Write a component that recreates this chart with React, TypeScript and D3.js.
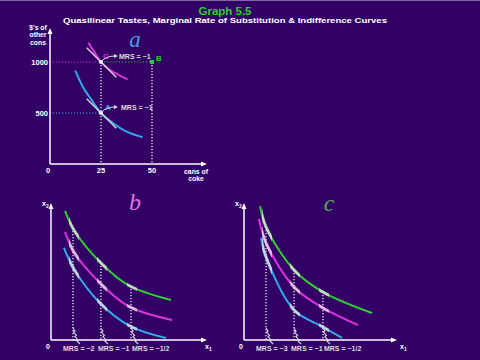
import React from 'react';
import * as d3 from 'd3';

const W = 480;
const H = 360;
const bg = '#330066';
const green = '#33cc33';
const magenta = '#dd33dd';
const blue = '#33aaee';
const grey = '#dcdcdc';

// panel a : quasilinear, cans of coke vs $'s of other cons
const aTicksX = [0, 25, 50];
const aTicksY = [500, 1000];
const aBlue = [
  {x: 12.4, y: 915}, {x: 16.3, y: 750}, {x: 20.4, y: 627}, {x: 25, y: 500},
  {x: 31, y: 400}, {x: 37.6, y: 317}, {x: 45.4, y: 262},
];
const aMagenta = [
  {x: 18.8, y: 1189}, {x: 22.1, y: 1085}, {x: 25, y: 1000}, {x: 29.4, y: 922}, {x: 38.1, y: 830},
];
const aPoints = [
  {name: 'C', x: 25, y: 1000, color: magenta},
  {name: 'A', x: 25, y: 500, color: blue},
];
const pointB = {name: 'B', x: 50, y: 1000};
const aSlope = -20; // MRS = -1 drawn at screen slope -1

// panel b
const bGreen = [
  {x: 0.9, y: 9.42}, {x: 1.47, y: 8.03}, {x: 3.14, y: 5.69}, {x: 4.94, y: 4.01}, {x: 7.69, y: 2.92},
];
const bMagenta = [
  {x: 0.9, y: 7.88}, {x: 1.47, y: 6.42}, {x: 3.14, y: 4.16}, {x: 4.94, y: 2.48}, {x: 7.76, y: 1.46},
];
const bBlue = [
  {x: 0.83, y: 6.72}, {x: 1.47, y: 5.18}, {x: 3.14, y: 2.7}, {x: 5.06, y: 1.02}, {x: 7.37, y: 0.15},
];
const bMrsX = [1.41, 3.2, 5.13];
const bMrsLabels = ['MRS = \u22122', 'MRS = \u22121', 'MRS = \u22121/2'];

// panel c
const cGreen = [
  {x: 1.05, y: 9.78}, {x: 1.44, y: 8.25}, {x: 3.27, y: 5.11}, {x: 5.16, y: 3.5}, {x: 8.37, y: 1.97},
];
const cMagenta = [
  {x: 0.98, y: 8.83}, {x: 1.44, y: 7.08}, {x: 3.27, y: 3.87}, {x: 5.16, y: 2.34}, {x: 7.45, y: 1.09},
];
const cBlue = [
  {x: 1.11, y: 7.45}, {x: 1.44, y: 6.06}, {x: 3.27, y: 2.19}, {x: 5.16, y: 0.95}, {x: 6.41, y: 0.15},
];
const cMrsX = [1.44, 3.27, 5.16];
const cMrsLabels = ['MRS = \u22123', 'MRS = \u22121', 'MRS = \u22121/2'];

const labelOffsets = [-10, -3, 1];
const font = "'Liberation Sans', Arial, sans-serif";
const serif = "'Liberation Serif', 'DejaVu Serif', serif";

function Arrowhead({x, y, dir}) {
  // dir: 'up' | 'right'
  const p = dir === 'up'
    ? `M${x},${y} L${x - 2.5},${y + 6} L${x + 2.5},${y + 6} Z`
    : `M${x},${y} L${x - 6},${y - 2.5} L${x - 6},${y + 2.5} Z`;
  return <path d={p} fill='white' />;
}

function Axes({x0, y0, xEnd, yEnd}) {
  return (
    <g>
      <line x1={x0} y1={y0} x2={x0} y2={yEnd + 3} stroke='white' strokeWidth={1.5} />
      <line x1={x0} y1={y0} x2={xEnd - 3} y2={y0} stroke='white' strokeWidth={1.5} />
      <Arrowhead x={x0} y={yEnd} dir='up' />
      <Arrowhead x={xEnd} y={y0} dir='right' />
    </g>
  );
}

// little lightning-style arrow from the dotted line down to its label
function squiggle(x, y) {
  return `M${x},${y} l2,3 l-1.5,1 l3,3.5 l-1.5,1 l3,3.5 l-1,1 l3,3`;
}

function Panel({id, xs, ys, curves, mrsX, labels, letter, letterColor, xLabelX}) {
  const line = d3.line().x(d => xs(d.x)).y(d => ys(d.y)).curve(d3.curveCatmullRom);
  const top = d3.scaleLinear().domain(curves[0].data.map(d => d.x)).range(curves[0].data.map(d => d.y));
  const x0 = xs(0);
  const y0 = ys(0);
  return (
    <g>
      <defs>
        {mrsX.map((m, i) => (
          <clipPath key={i} id={`${id}clip${i}`}>
            <rect x={xs(m) - 4} y={0} width={10} height={H} />
          </clipPath>
        ))}
      </defs>
      {mrsX.map((m, i) => (
        <line key={i} x1={xs(m)} x2={xs(m)} y1={ys(top(m))} y2={y0}
          stroke='white' strokeWidth={1.2} strokeDasharray='1.2,1.8' />
      ))}
      {curves.map((c, i) => (
        <path key={i} d={line(c.data)} fill='none' stroke={c.color} strokeWidth={2} />
      ))}
      {curves.map((c, i) => mrsX.map((m, j) => (
        <path key={`${i}-${j}`} d={line(c.data)} fill='none' stroke='#f0f0f0'
          strokeOpacity={0.7} strokeWidth={3} clipPath={`url(#${id}clip${j})`} />
      )))}
      <Axes x0={x0} y0={y0} xEnd={xs(10)} yEnd={ys(10)} />
      {mrsX.map((m, i) => (
        <g key={i}>
          <path d={squiggle(xs(m), y0 - 12)} fill='none' stroke={grey} strokeWidth={1.1} />
          <text x={xs(m) + labelOffsets[i]} y={y0 + 10.5} fill={grey} fontSize={7}
            fontWeight='bold' fontFamily={font}>{labels[i]}</text>
        </g>
      ))}
      <text x={x0 - 3} y={y0 + 9} fill='white' fontSize={7} fontWeight='bold'
        fontFamily={font} textAnchor='middle'>0</text>
      <text x={x0 - 9} y={ys(10) + 3} fill='white' fontSize={7} fontWeight='bold' fontFamily={font}>
        x<tspan fontSize={5} dy={1.5}>2</tspan>
      </text>
      <text x={xLabelX} y={y0 + 9} fill='white' fontSize={7} fontWeight='bold' fontFamily={font}>
        x<tspan fontSize={5} dy={1.5}>1</tspan>
      </text>
      <text x={letter.x} y={letter.y} fill={letterColor} fontSize={24} fontStyle='italic'
        fontFamily={serif} textAnchor='middle'>{letter.t}</text>
    </g>
  );
}

export default function App() {
  const ax = d3.scaleLinear().domain([0, 50]).range([50, 152]);
  const ay = d3.scaleLinear().domain([0, 1000]).range([164, 62]);
  const aLine = d3.line().x(d => ax(d.x)).y(d => ay(d.y)).curve(d3.curveCatmullRom);

  const bx = d3.scaleLinear().domain([0, 10]).range([51, 207]);
  const by = d3.scaleLinear().domain([0, 10]).range([340, 203]);
  const cx = d3.scaleLinear().domain([0, 10]).range([244, 397]);
  const cy = d3.scaleLinear().domain([0, 10]).range([340, 203]);

  const dot = {stroke: 'white', strokeWidth: 1.2, strokeDasharray: '1.2,1.8'};
  const lbl = {fill: 'white', fontSize: 7.5, fontWeight: 'bold', fontFamily: font};
  const small = {...lbl, fontSize: 6.8};

  return (
    <svg width={W} height={H} style={{position: 'absolute', left: 0, top: 0}}>
      <rect width={W} height={H} fill={bg} />
      <line x1={0} x2={W} y1={0.5} y2={0.5} stroke='#7f66a6' />

      <text x={225} y={15} fill={green} fontSize={11.5} fontWeight='bold'
        fontFamily={font} textAnchor='middle'>Graph 5.5</text>
      <text x={225} y={23} fill='white' fontSize={8} fontWeight='bold' fontFamily={font}
        textAnchor='middle' textLength={324} lengthAdjust='spacingAndGlyphs'>
        Quasilinear Tastes, Marginal Rate of Substitution &amp; Indifference Curves
      </text>

      {/* panel a */}
      <g>
        <line x1={ax(0)} x2={ax(25)} y1={ay(1000)} y2={ay(1000)} {...dot} stroke={magenta} />
        <line x1={ax(25)} x2={ax(50)} y1={ay(1000)} y2={ay(1000)} {...dot} stroke={green} />
        <line x1={ax(0)} x2={ax(25)} y1={ay(500)} y2={ay(500)} {...dot} stroke={blue} />
        <line x1={ax(25)} x2={ax(25)} y1={ay(1000)} y2={ay(0)} {...dot} />
        <line x1={ax(50)} x2={ax(50)} y1={ay(1000)} y2={ay(0)} {...dot} />

        <path d={aLine(aBlue)} fill='none' stroke={blue} strokeWidth={2} />
        <path d={aLine(aMagenta)} fill='none' stroke={magenta} strokeWidth={2} />
        {aPoints.map(p => (
          <g key={p.name}>
            <line x1={ax(p.x - 7)} y1={ay(p.y - aSlope * 7)} x2={ax(p.x + 7.5)} y2={ay(p.y + aSlope * 7.5)}
              stroke='#d8d8e0' strokeWidth={1.3} />
            <circle cx={ax(p.x)} cy={ay(p.y)} r={2} fill='#f0f0f0' />
            <text x={ax(p.x) + (p.name === 'C' ? 2 : 4)} y={ay(p.y) - 3} fill={p.color}
              fontSize={8} fontWeight='bold' fontFamily={font}>{p.name}</text>
            <path d={`M${ax(p.x) + 1},${ay(p.y) - 1} Q${ax(p.x) + 5},${ay(p.y) - 6} ${ax(p.x) + 14},${ay(p.y) - 6}`}
              fill='none' stroke={grey} strokeWidth={1} />
            <path d={`M${ax(p.x) + 17},${ay(p.y) - 6} l-4,-2 l0,4 Z`} fill={grey} />
            <text x={ax(p.x) + (p.name === 'C' ? 18 : 20)} y={ay(p.y) - 3.5} fill={grey}
              fontSize={7} fontWeight='bold' fontFamily={font}>MRS = {'\u2212'}1</text>
          </g>
        ))}
        <rect x={ax(pointB.x) - 2} y={ay(pointB.y) - 2} width={4} height={4} fill={green} />
        <text x={ax(pointB.x) + 4} y={ay(pointB.y) - 1} fill={green} fontSize={8}
          fontWeight='bold' fontFamily={font}>{pointB.name}</text>

        <Axes x0={ax(0)} y0={ay(0)} xEnd={207} yEnd={28} />
        {aTicksX.map(t => (
          <text key={t} x={ax(t) - (t === 0 ? 2 : 0)} y={ay(0) + 9} textAnchor='middle' {...lbl}>{t}</text>
        ))}
        {aTicksY.map(t => (
          <text key={t} x={ax(0) - 2} y={ay(t) + 2.5} textAnchor='end' {...lbl}>{t}</text>
        ))}
        <text x={38} y={29.5} textAnchor='middle' {...small}>$'s of</text>
        <text x={38} y={37} textAnchor='middle' {...small}>other</text>
        <text x={38} y={44.5} textAnchor='middle' {...small}>cons</text>
        <text x={196} y={173.5} textAnchor='middle' {...small}>cans of</text>
        <text x={196} y={181} textAnchor='middle' {...small}>coke</text>
        <text x={135} y={47} fill='#4a9ee0' fontSize={23} fontStyle='italic'
          fontFamily={serif} textAnchor='middle'>a</text>
      </g>

      <Panel id='b' xs={bx} ys={by} mrsX={bMrsX} labels={bMrsLabels}
        curves={[{data: bGreen, color: green}, {data: bMagenta, color: magenta}, {data: bBlue, color: blue}]}
        letter={{t: 'b', x: 135, y: 210}} letterColor='#dd77dd' xLabelX={205} />
      <Panel id='c' xs={cx} ys={cy} mrsX={cMrsX} labels={cMrsLabels}
        curves={[{data: cGreen, color: green}, {data: cMagenta, color: magenta}, {data: cBlue, color: blue}]}
        letter={{t: 'c', x: 329, y: 211}} letterColor='#55a855' xLabelX={400} />
    </svg>
  );
}
